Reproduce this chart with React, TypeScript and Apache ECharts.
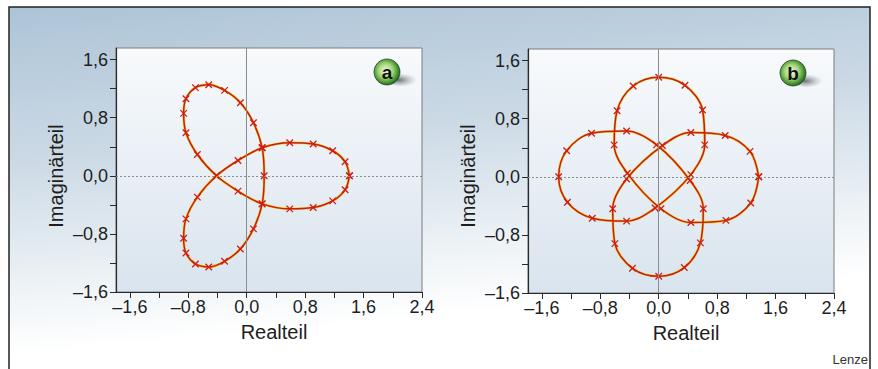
import React, { useEffect, useRef } from "react";
import * as echarts from "echarts";

// ---- axis ticks / labels ----
const xTickValues = [-1.6, -1.2, -0.8, -0.4, 0, 0.4, 0.8, 1.2, 1.6, 2.0, 2.4];
const xLabelValues = [-1.6, -0.8, 0, 0.8, 1.6, 2.4];
const yTickValues = [-1.6, -1.2, -0.8, -0.4, 0, 0.4, 0.8, 1.2, 1.6];
const yLabelValues = [-1.6, -0.8, 0, 0.8, 1.6];
const xTitle = "Realteil";
const yTitle = "Imaginärteil";
const panelTags = ["a", "b"];

// ---- panel a: three-lobed locus (Realteil / Imaginärteil of the markers) ----
const aRe = [
  1.407, 1.347, 1.177, 0.91, 0.589, 0.211, -0.12, -0.414, -0.676, -0.832, -0.864, -0.832,
  -0.703, -0.52, -0.303, -0.087, 0.092, 0.211, 0.239, 0.211, 0.092, -0.087, -0.303, -0.52,
  -0.703, -0.832, -0.864, -0.832, -0.676, -0.414, -0.12, 0.211, 0.589, 0.91, 1.177, 1.347, 1.407,
];
const aIm = [
  0, 0.193, 0.345, 0.437, 0.455, 0.386, 0.211, 0, -0.294, -0.593, -0.86, -1.062,
  -1.214, -1.255, -1.177, -1.007, -0.731, -0.386, 0, 0.386, 0.731, 1.007, 1.177, 1.255,
  1.214, 1.062, 0.86, 0.593, 0.294, 0, -0.211, -0.386, -0.455, -0.437, -0.345, -0.193, 0,
];

// ---- panel b: four-lobed locus ----
const bRe = [
  1.37, 1.25, 0.91, 0.44, 0.05, -0.44, -0.63, -0.6, -0.36,
  0, 0.35, 0.57, 0.61, 0.43, -0.03, -0.44, -0.92, -1.26,
  -1.37, -1.25, -0.91, -0.44, -0.05, 0.44, 0.63, 0.6, 0.36,
  0, -0.35, -0.57, -0.61, -0.43, 0.03, 0.44, 0.92, 1.26, 1.37,
];
const bIm = [
  0, 0.35, 0.57, 0.61, 0.43, -0.03, -0.44, -0.92, -1.26,
  -1.37, -1.25, -0.91, -0.44, -0.05, 0.44, 0.63, 0.6, 0.36,
  0, -0.35, -0.57, -0.61, -0.43, 0.03, 0.44, 0.92, 1.26,
  1.37, 1.25, 0.91, 0.44, 0.05, -0.44, -0.63, -0.6, -0.36, 0,
];

const FONT = '"Liberation Sans", Arial, Helvetica, sans-serif';

const fmt = (v: number) => {
  const s = Math.abs(v).toFixed(1).replace(".", ",");
  return v < -1e-9 ? "\u2013" + s : s;
};

const grids = [
  { left: 116, top: 48, width: 306, height: 244 },
  { left: 528, top: 49, width: 306, height: 244 },
];

export default function App() {
  const ref = useRef<HTMLDivElement>(null);
  useEffect(() => {
    if (!ref.current) return;
    const chart = echarts.init(ref.current, null, { renderer: "svg" });

    const plotBg = {
      type: "linear", x: 0, y: 0, x2: 0, y2: 1,
      colorStops: [
        { offset: 0, color: "#f8fafc" },
        { offset: 1, color: "#d9e4ee" },
      ],
    };

    const xAxes = grids.map((_, i) => ({
      gridIndex: i,
      type: "value",
      min: -1.79,
      max: 2.4,
      axisLine: { show: true, onZero: false, lineStyle: { color: "#2a2a2a", width: 1.2 } },
      axisTick: { show: true, inside: false, length: 6, customValues: xTickValues, lineStyle: { color: "#2a2a2a", width: 1 } },
      axisLabel: { show: true, customValues: xLabelValues, formatter: fmt, fontSize: 18, color: "#1e1e1e", fontFamily: FONT, margin: 6 },
      splitLine: { show: false },
    }));
    const yAxes = grids.map((_, i) => ({
      gridIndex: i,
      type: "value",
      min: -1.6,
      max: 1.76,
      axisLine: { show: true, onZero: false, lineStyle: { color: "#2a2a2a", width: 1.2 } },
      axisTick: { show: true, inside: false, length: 6, customValues: yTickValues, lineStyle: { color: "#2a2a2a", width: 1 } },
      axisLabel: { show: true, customValues: yLabelValues, formatter: fmt, fontSize: 18, color: "#1e1e1e", fontFamily: FONT, margin: 8 },
      splitLine: { show: false },
    }));

    const curves = [
      aRe.map((x, i) => [x, aIm[i]]),
      bRe.map((x, i) => [x, bIm[i]]),
    ];

    const SMOOTH = 0.34;
    const series: any[] = [];
    curves.forEach((data, i) => {
      series.push({
        type: "line",
        xAxisIndex: i,
        yAxisIndex: i,
        data,
        smooth: SMOOTH,
        showSymbol: false,
        silent: true,
        z: 2,
        lineStyle: { color: "#f2cc2a", width: 2.6 },
        markLine: {
          silent: true,
          symbol: "none",
          label: { show: false },
          data: [
            { xAxis: 0, lineStyle: { color: "#8c8c8c", width: 1, type: "solid" } },
            { yAxis: 0, lineStyle: { color: "#8c8c8c", width: 1, type: [2, 2] } },
          ],
        },
      });
      series.push({
        type: "line",
        xAxisIndex: i,
        yAxisIndex: i,
        data,
        smooth: SMOOTH,
        showSymbol: true,
        symbol: "path://M0,0L10,10M10,0L0,10",
        symbolSize: 6.5,
        silent: true,
        z: 3,
        lineStyle: { color: "#c21f1c", width: 1.5 },
        itemStyle: { color: "#d01c18", borderColor: "#d01c18", borderWidth: 1.3 },
      });
    });

    const badge = (cx: number, cy: number, letter: string) => [
      {
        type: "ellipse",
        z: 50,
        shape: { cx: cx + 15, cy: cy + 8, rx: 15, ry: 6 },
        style: {
          fill: {
            type: "radial", x: 0.4, y: 0.5, r: 0.6,
            colorStops: [
              { offset: 0, color: "rgba(80,90,95,0.85)" },
              { offset: 1, color: "rgba(150,160,165,0)" },
            ],
          },
        },
      },
      {
        type: "circle",
        z: 51,
        shape: { cx, cy, r: 13 },
        style: {
          fill: {
            type: "radial", x: 0.45, y: 0.45, r: 0.6,
            colorStops: [
              { offset: 0, color: "#f3fbe8" },
              { offset: 0.45, color: "#a6d77a" },
              { offset: 0.8, color: "#3e8e2c" },
              { offset: 1, color: "#1c4d17" },
            ],
          },
          stroke: "#24461c",
          lineWidth: 0.8,
        },
      },
      {
        type: "text",
        z: 52,
        x: cx,
        y: cy,
        style: {
          text: letter,
          fill: "#111",
          font: `bold 19px ${FONT}`,
          textAlign: "center",
          textVerticalAlign: "middle",
          align: "center",
          verticalAlign: "middle",
        },
      },
    ];

    const titleText = (x: number, y: number, text: string, rot: number) => ({
      type: "text",
      z: 40,
      x,
      y,
      rotation: rot,
      style: {
        text,
        fill: "#1e1e1e",
        font: `20px ${FONT}`,
        textAlign: "center",
        textVerticalAlign: "middle",
        align: "center",
        verticalAlign: "middle",
      },
    });

    const graphic: any[] = [
      {
        type: "rect",
        z: -100,
        shape: { x: 9, y: 7, width: 861, height: 362 },
        style: {
          fill: {
            type: "linear", x: 0, y: 0, x2: 0.22, y2: 1,
            colorStops: [
              { offset: 0, color: "#adc4d7" },
              { offset: 0.4, color: "#cbd9e5" },
              { offset: 0.72, color: "#ebf1f5" },
              { offset: 0.92, color: "#ffffff" },
            ],
          },
        },
      },
      {
        type: "polyline",
        z: 60,
        shape: { points: [[9, 370], [9, 7], [870, 7], [870, 370]] },
        style: { stroke: "#222", lineWidth: 1.5, fill: "none" },
      },
      titleText(56, 176, yTitle, Math.PI / 2),
      titleText(274, 332, xTitle, 0),
      titleText(468, 176, yTitle, Math.PI / 2),
      titleText(686, 333, xTitle, 0),
      ...badge(387, 72, panelTags[0]),
      ...badge(793, 73, panelTags[1]),
      {
        type: "text",
        z: 40,
        x: 868,
        y: 359,
        style: {
          text: "Lenze",
          fill: "#333",
          font: `13px ${FONT}`,
          textAlign: "right",
          textVerticalAlign: "middle",
          align: "right",
          verticalAlign: "middle",
        },
      },
    ];

    chart.setOption({
      animation: false,
      backgroundColor: "#ffffff",
      textStyle: { fontFamily: FONT },
      grid: grids.map((g) => ({
        ...g,
        show: true,
        backgroundColor: plotBg,
        borderColor: "#7d7d7d",
        borderWidth: 1,
        containLabel: false,
      })),
      xAxis: xAxes,
      yAxis: yAxes,
      series,
      graphic,
    } as any);
    return () => chart.dispose();
  }, []);
  return (
    <div
      ref={ref}
      style={{ position: "fixed", left: 0, top: 0, width: 878, height: 369 }}
    />
  );
}
